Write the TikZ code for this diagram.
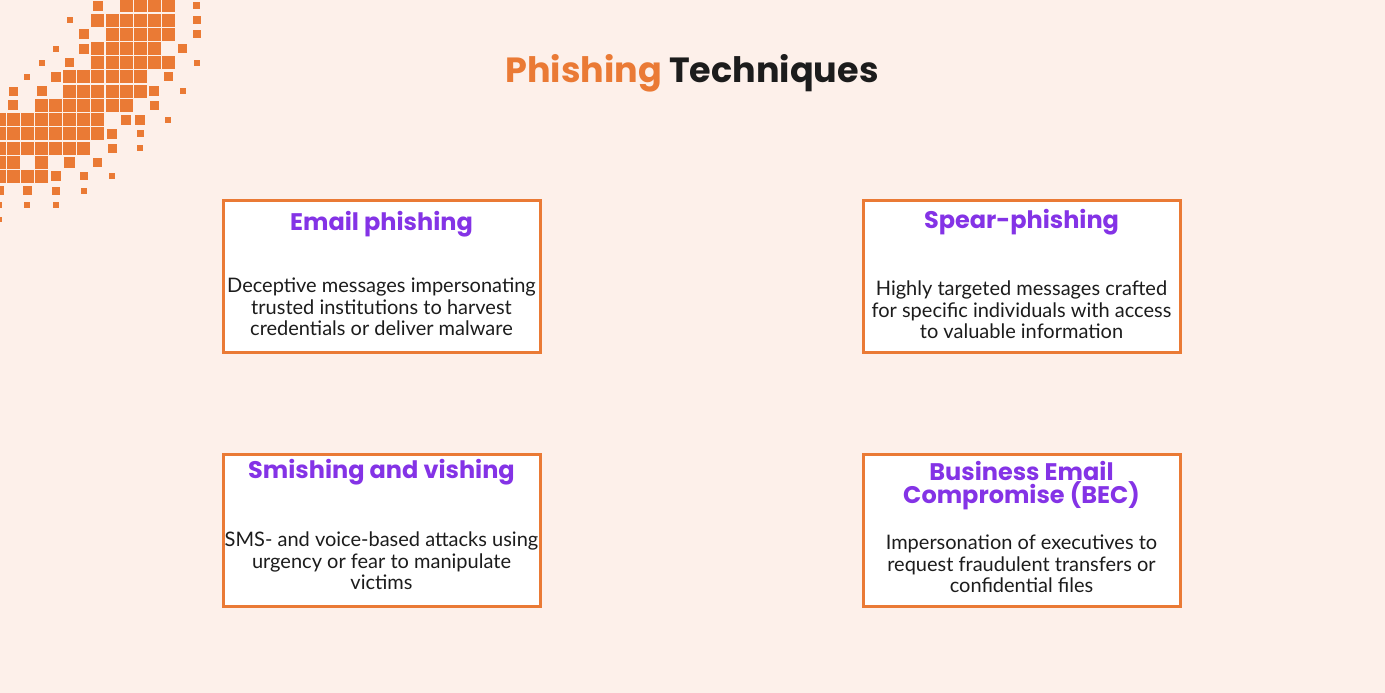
\documentclass[tikz,border=0pt]{standalone}
\usepackage{fontspec}
\setmainfont{Lato}
\newfontfamily\headf{Poppins}
\definecolor{bg}{HTML}{FDF0EA}
\definecolor{org}{HTML}{EA7A35}
\definecolor{pur}{HTML}{8433E6}
\definecolor{ink}{HTML}{1C1C1C}
\begin{document}
\begin{tikzpicture}[x=1pt,y=-1pt,
  card/.style={draw=org,line width=3pt,fill=white,minimum width=317pt,minimum height=152pt,anchor=north west},
  head/.style={text=pur,font=\headf\bfseries\fontsize{24}{24}\selectfont,align=center},
  body/.style={text=ink,font=\fontsize{20}{21.5}\selectfont,align=center}]
\useasboundingbox[fill=bg] (0,0) rectangle (1385,693);
\foreach \c/\r/\s in {
 6/0/10,8/0/13,9/0/13,10/0/13,11/0/13,13/0/7,
 4/1/6,6/1/13,7/1/13,8/1/13,9/1/13,10/1/13,11/1/13,13/1/8,
 5/2/10,7/2/13,8/2/13,9/2/13,10/2/13,11/2/13,13/2/8,
 3/3/6,5/3/10,6/3/13,7/3/13,8/3/13,9/3/13,10/3/13,12/3/9,
 2/4/6,4/4/9,6/4/13,7/4/13,8/4/13,9/4/13,10/4/13,11/4/13,13/4/6,
 1/5/6,3/5/10,4/5/13,5/5/13,6/5/13,7/5/13,8/5/13,9/5/13,11/5/9,
 0/6/9,2/6/10,4/6/13,5/6/13,6/6/13,7/6/13,8/6/13,9/6/13,10/6/10,12/6/6,
 0/7/10,2/7/13,3/7/13,4/7/13,5/7/13,6/7/13,7/7/13,8/7/13,10/7/9,
 -1/8/13,0/8/13,1/8/13,2/8/13,3/8/13,4/8/13,5/8/13,6/8/13,8/8/10,9/8/10,11/8/6,
 -1/9/13,0/9/13,1/9/13,2/9/13,3/9/13,4/9/13,5/9/13,6/9/13,7/9/10,9/9/7,
 -1/10/13,0/10/13,1/10/13,2/10/13,3/10/13,4/10/13,5/10/13,7/10/9,9/10/6,
 -1/11/13,0/11/13,2/11/13,4/11/11,6/11/9,
 -1/12/13,0/12/13,1/12/13,2/12/13,3/12/10,5/12/8,7/12/6,
 -1/13/9,1/13/9,3/13/8,5/13/6,
 -1/14/6,1/14/6,3/14/6,
 -1/15/5}
 \fill[org] ({13.3+14.1*\c-\s/2},{6+14.2*\r-\s/2}) rectangle ++(\s,\s);
\node (title) at (692,73) {\headf\bfseries\fontsize{35}{35}\selectfont\textcolor{org}{Phishing} \textcolor{ink}{Techniques}};
\node[card] (c1) at (222,199) {};
\node[card] (c2) at (862,199) {};
\node[card] (c3) at (222,453) {};
\node[card] (c4) at (862,453) {};
\node[head] (h1) at (381.5,224) {Email phishing};
\node[body] (b1) at (381.5,307) {Deceptive messages impersonating\\trusted institutions to harvest\\credentials or deliver malware};
\node[head] (h2) at (1021.5,222) {Spear-phishing};
\node[body] (b2) at (1021.5,310) {Highly targeted messages crafted\\for specific individuals with access\\to valuable information};
\node[head] (h3) at (381.5,472) {Smishing and vishing};
\node[body] (b3) at (381.5,561) {SMS- and voice-based attacks using\\urgency or fear to manipulate\\victims};
\node[head,font=\headf\bfseries\fontsize{24}{23}\selectfont] (h4) at (1021.5,486) {Business Email\\Compromise (BEC)};
\node[body] (b4) at (1021.5,564) {Impersonation of executives to\\request fraudulent transfers or\\confidential files};
\end{tikzpicture}
\end{document}
